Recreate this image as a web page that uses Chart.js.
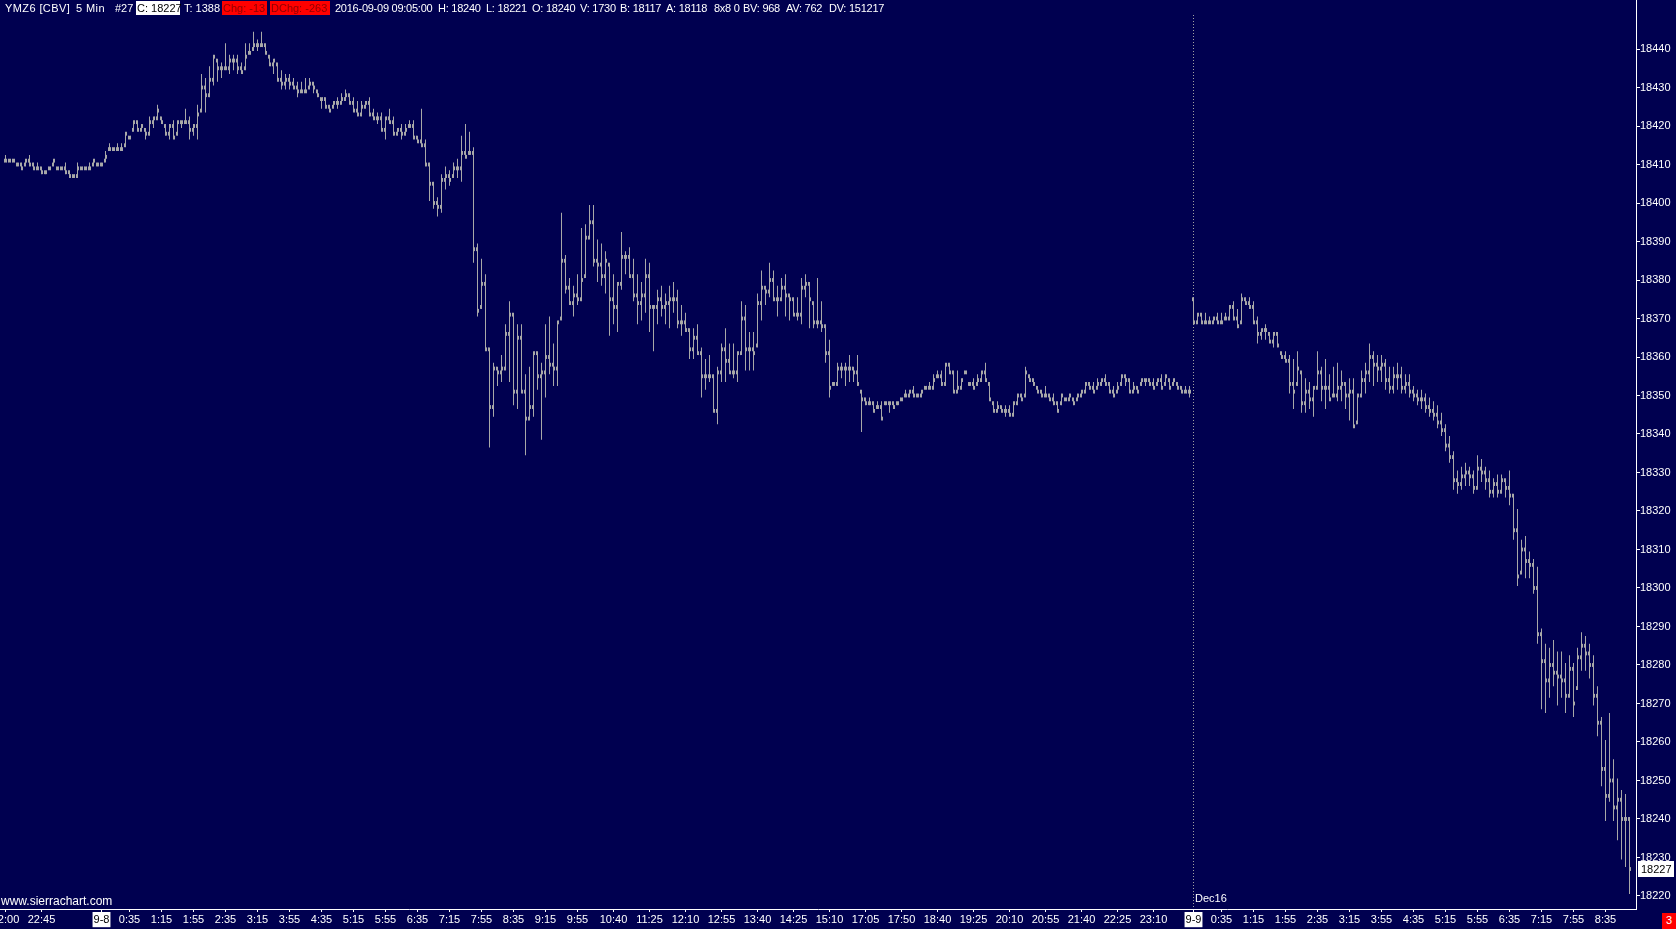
<!DOCTYPE html>
<html>
<head>
<meta charset="utf-8">
<title>YMZ6 5 Min</title>
<script src="https://cdn.jsdelivr.net/npm/chart.js@4.4.1/dist/chart.umd.min.js"></script>
<style>
    body { margin: 0; background: #000050; overflow: hidden; }
    #wrap { position: relative; width: 1676px; height: 929px; font-family: "Liberation Sans", Arial, sans-serif; font-size: 11px; color: #fff; }
    #chart { position: absolute; left: 0; top: 0; }
    .t { position: absolute; top: 1px; height: 14px; line-height: 14px; white-space: pre; }
    .n { letter-spacing: -0.25px; }
    .w { letter-spacing: 0.4px; }
    .inv { background: #fff; color: #000; padding-left: 1px; }
    .red { background: #ff0000; color: #900000; padding-left: 1px; }
</style>
</head>
<body>
<div id="wrap">
    <canvas id="chart" width="1676" height="929"></canvas>
    <span class="t w" style="left:5px">YMZ6 [CBV]</span>
    <span class="t w" style="left:76px">5 Min</span>
    <span class="t" style="left:115px">#27</span>
    <span class="t inv" style="left:136px;width:43px">C: 18227</span>
    <span class="t" style="left:184px">T: 1388</span>
    <span class="t red" style="left:222px;width:44px">Chg: -13</span>
    <span class="t red" style="left:270px;width:59px">DChg: -263</span>
    <span class="t n" style="left:335px">2016-09-09 09:05:00</span>
    <span class="t n" style="left:438px">H: 18240</span>
    <span class="t n" style="left:486px">L: 18221</span>
    <span class="t n" style="left:532px">O: 18240</span>
    <span class="t n" style="left:580px">V: 1730</span>
    <span class="t n" style="left:620px">B: 18117</span>
    <span class="t n" style="left:666px">A: 18118</span>
    <span class="t n" style="left:714px">8x8 0</span>
    <span class="t n" style="left:743px">BV: 968</span>
    <span class="t n" style="left:786px">AV: 762</span>
    <span class="t n" style="left:829px">DV: 151217</span>
    <span class="t" style="left:1px;top:894px;font-size:12px">www.sierrachart.com</span>
    <span class="t" style="left:1195px;top:891px">Dec16</span>
    <span class="t" style="left:1662px;top:913px;width:14px;height:16px;background:#ff0000;text-align:center">3</span>
</div>
<script>
// 5 min bars, 2016-09-07 22:00 .. 2016-09-09 09:05
const barOpen = [
    18411,18411,18411,18410,18410,18410,18411,18410,18409,18409,
    18408,18409,18410,18409,18409,18409,18408,18407,18407,18409,
    18409,18409,18410,18410,18410,18411,18414,18414,18414,18414,
    18415,18417,18419,18421,18419,18419,18418,18421,18422,18422,
    18420,18418,18420,18418,18421,18421,18421,18419,18420,18424,
    18430,18428,18432,18437,18435,18435,18435,18437,18437,18435,
    18435,18439,18440,18441,18441,18441,18438,18436,18436,18432,
    18431,18432,18431,18430,18429,18429,18430,18431,18429,18427,
    18427,18425,18425,18426,18426,18427,18428,18426,18424,18423,
    18425,18426,18423,18422,18422,18419,18422,18421,18418,18419,
    18418,18420,18420,18417,18416,18415,18410,18405,18400,18399,
    18406,18407,18407,18409,18409,18413,18413,18413,18388,18373,
    18379,18362,18347,18357,18356,18357,18366,18371,18351,18365,
    18351,18344,18347,18361,18355,18356,18360,18358,18357,18370,
    18385,18378,18374,18376,18375,18381,18391,18395,18385,18384,
    18381,18384,18375,18373,18379,18386,18386,18381,18376,18374,
    18376,18381,18373,18373,18375,18373,18374,18375,18375,18369,
    18369,18367,18362,18365,18361,18355,18355,18355,18346,18356,
    18362,18359,18356,18356,18361,18370,18362,18362,18363,18374,
    18378,18377,18380,18375,18375,18378,18376,18375,18371,18371,
    18378,18379,18374,18369,18369,18368,18361,18353,18353,18357,
    18357,18357,18357,18356,18351,18349,18348,18348,18347,18347,
    18348,18348,18348,18348,18349,18350,18350,18351,18350,18350,
    18352,18352,18352,18355,18355,18353,18358,18356,18351,18352,
    18356,18353,18353,18353,18354,18356,18353,18348,18346,18347,
    18346,18346,18345,18348,18350,18350,18355,18354,18352,18351,
    18350,18350,18349,18348,18348,18349,18349,18349,18349,18350,
    18351,18353,18352,18352,18353,18354,18353,18351,18351,18353,
    18355,18354,18351,18352,18353,18354,18354,18353,18353,18354,
    18353,18354,18353,18353,18352,18351,18351,18375,18369,18371,
    18369,18369,18369,18370,18369,18370,18370,18373,18370,18369,
    18375,18374,18373,18369,18366,18367,18366,18364,18366,18361,
    18360,18359,18353,18353,18356,18348,18351,18349,18352,18356,
    18352,18352,18350,18350,18352,18353,18350,18351,18343,18350,
    18354,18356,18360,18358,18357,18358,18354,18352,18355,18355,
    18352,18353,18351,18350,18349,18349,18347,18346,18345,18343,
    18341,18337,18334,18328,18327,18329,18330,18329,18326,18331,
    18330,18328,18325,18327,18325,18328,18326,18324,18315,18304,
    18310,18307,18306,18300,18288,18281,18276,18280,18278,18277,
    18276,18272,18279,18274,18282,18285,18283,18280,18272,18265,
    18253,18246,18250,18243,18245,18240,18240
];
const barHigh = [
    18412,18411,18411,18410,18410,18411,18412,18410,18410,18409,
    18408,18409,18411,18409,18409,18410,18408,18407,18410,18409,
    18409,18410,18411,18410,18410,18413,18415,18414,18415,18415,
    18418,18417,18421,18421,18420,18419,18422,18422,18425,18422,
    18420,18420,18421,18421,18421,18424,18422,18420,18425,18433,
    18432,18435,18438,18437,18436,18441,18438,18438,18438,18436,
    18441,18441,18444,18442,18444,18441,18438,18437,18436,18434,
    18433,18433,18432,18431,18431,18432,18432,18431,18429,18427,
    18427,18425,18426,18427,18428,18429,18428,18427,18426,18426,
    18426,18427,18424,18423,18423,18422,18424,18422,18419,18420,
    18420,18421,18421,18417,18424,18416,18410,18405,18401,18407,
    18409,18408,18410,18411,18417,18420,18418,18414,18389,18385,
    18381,18362,18358,18357,18360,18368,18374,18371,18368,18368,
    18355,18357,18361,18361,18358,18368,18370,18363,18369,18397,
    18386,18380,18378,18381,18393,18394,18399,18399,18390,18389,
    18387,18384,18381,18379,18392,18387,18388,18385,18381,18379,
    18385,18384,18373,18377,18378,18376,18378,18379,18377,18373,
    18371,18367,18367,18368,18362,18359,18360,18355,18357,18363,
    18367,18363,18363,18361,18374,18373,18366,18366,18376,18382,
    18378,18384,18382,18378,18380,18381,18376,18375,18375,18380,
    18381,18379,18374,18380,18374,18368,18364,18353,18358,18358,
    18358,18360,18357,18360,18351,18349,18349,18348,18348,18348,
    18348,18348,18348,18348,18349,18351,18351,18352,18350,18351,
    18352,18353,18355,18356,18356,18358,18358,18356,18356,18354,
    18356,18353,18354,18355,18356,18358,18353,18348,18348,18347,
    18347,18347,18348,18350,18350,18357,18355,18354,18352,18351,
    18352,18350,18350,18348,18350,18349,18350,18349,18350,18351,
    18353,18353,18353,18354,18354,18355,18353,18352,18353,18355,
    18355,18354,18353,18352,18354,18354,18354,18354,18354,18355,
    18355,18354,18354,18353,18352,18352,18352,18375,18371,18371,
    18371,18370,18370,18371,18371,18371,18373,18374,18372,18376,
    18375,18375,18374,18370,18367,18368,18366,18366,18366,18361,
    18361,18360,18359,18361,18356,18354,18353,18352,18361,18357,
    18359,18355,18357,18358,18356,18353,18354,18354,18350,18356,
    18358,18363,18361,18360,18360,18359,18357,18357,18358,18357,
    18355,18355,18352,18351,18351,18350,18349,18348,18347,18345,
    18342,18339,18335,18330,18331,18332,18331,18330,18334,18333,
    18331,18330,18328,18329,18329,18328,18330,18324,18320,18312,
    18313,18309,18307,18305,18289,18285,18284,18286,18283,18283,
    18280,18282,18280,18284,18288,18287,18285,18282,18274,18266,
    18260,18267,18255,18250,18247,18246,18240
];
const barLow = [
    18411,18411,18411,18410,18409,18410,18410,18409,18409,18408,
    18408,18409,18410,18409,18409,18408,18407,18407,18407,18409,
    18409,18409,18410,18410,18410,18411,18414,18414,18414,18414,
    18415,18417,18419,18419,18419,18417,18418,18420,18422,18421,
    18418,18417,18417,18418,18420,18421,18417,18418,18417,18424,
    18424,18428,18431,18432,18433,18435,18434,18435,18434,18434,
    18435,18439,18440,18440,18441,18439,18436,18434,18432,18430,
    18430,18430,18430,18428,18429,18429,18430,18429,18428,18425,
    18425,18424,18425,18425,18426,18427,18426,18424,18423,18423,
    18425,18423,18422,18421,18419,18417,18421,18418,18418,18417,
    18418,18420,18417,18416,18415,18410,18401,18399,18397,18398,
    18404,18405,18407,18407,18406,18412,18413,18385,18371,18373,
    18362,18337,18345,18353,18354,18357,18354,18348,18347,18351,
    18335,18344,18345,18352,18339,18350,18356,18353,18353,18370,
    18377,18374,18371,18374,18375,18381,18391,18384,18380,18379,
    18377,18366,18369,18367,18378,18382,18381,18375,18369,18370,
    18372,18367,18362,18369,18371,18369,18368,18372,18368,18366,
    18367,18360,18360,18361,18350,18352,18354,18346,18343,18354,
    18354,18356,18355,18354,18361,18357,18357,18357,18363,18370,
    18374,18376,18375,18371,18375,18371,18370,18371,18370,18369,
    18376,18368,18368,18368,18367,18359,18350,18353,18353,18355,
    18353,18354,18354,18353,18341,18348,18348,18346,18347,18344,
    18348,18346,18347,18348,18349,18350,18350,18350,18350,18350,
    18352,18352,18352,18355,18353,18353,18356,18351,18351,18352,
    18356,18353,18352,18353,18354,18354,18349,18346,18346,18346,
    18345,18345,18345,18348,18349,18350,18354,18353,18351,18350,
    18350,18349,18348,18346,18348,18349,18349,18348,18349,18350,
    18351,18352,18351,18352,18353,18353,18351,18350,18351,18353,
    18353,18351,18351,18351,18353,18353,18353,18352,18353,18352,
    18353,18352,18353,18352,18351,18351,18350,18369,18369,18369,
    18369,18369,18369,18369,18369,18370,18370,18370,18368,18369,
    18374,18373,18369,18364,18365,18365,18364,18363,18363,18360,
    18359,18351,18347,18353,18346,18346,18347,18345,18352,18349,
    18347,18349,18350,18349,18349,18347,18344,18342,18343,18350,
    18351,18354,18353,18354,18354,18352,18351,18351,18352,18351,
    18351,18350,18349,18348,18347,18346,18345,18344,18342,18340,
    18336,18333,18326,18325,18326,18327,18327,18325,18326,18328,
    18326,18324,18324,18324,18325,18324,18322,18313,18301,18304,
    18303,18303,18299,18286,18269,18268,18272,18275,18270,18272,
    18268,18272,18267,18274,18279,18279,18277,18270,18262,18249,
    18240,18245,18240,18235,18230,18228,18221
];
const barClose = [
    18411,18411,18411,18410,18409,18411,18410,18409,18409,18408,
    18408,18409,18411,18409,18409,18408,18407,18407,18409,18409,
    18409,18409,18411,18410,18410,18412,18414,18414,18414,18414,
    18418,18417,18421,18419,18420,18418,18421,18422,18424,18421,
    18418,18420,18417,18421,18421,18421,18419,18420,18423,18430,
    18428,18432,18438,18435,18435,18435,18437,18437,18435,18434,
    18438,18439,18441,18441,18441,18439,18436,18437,18432,18431,
    18432,18431,18430,18429,18429,18429,18431,18430,18428,18427,
    18425,18424,18426,18426,18427,18428,18426,18424,18423,18425,
    18426,18423,18422,18422,18419,18422,18421,18418,18419,18418,
    18419,18420,18417,18416,18415,18410,18405,18400,18399,18406,
    18407,18406,18409,18409,18413,18412,18413,18388,18372,18379,
    18362,18347,18357,18356,18357,18366,18371,18351,18365,18351,
    18344,18347,18361,18355,18356,18360,18358,18357,18369,18385,
    18378,18374,18376,18375,18380,18391,18395,18385,18384,18381,
    18385,18375,18373,18379,18386,18386,18381,18376,18374,18376,
    18381,18373,18373,18375,18373,18374,18375,18375,18369,18369,
    18367,18362,18365,18361,18355,18355,18355,18346,18356,18362,
    18359,18356,18356,18361,18370,18362,18362,18361,18374,18378,
    18377,18380,18375,18375,18378,18376,18375,18371,18371,18378,
    18379,18375,18369,18369,18368,18361,18352,18353,18357,18357,
    18357,18357,18356,18353,18349,18348,18348,18346,18347,18344,
    18348,18348,18347,18348,18349,18350,18351,18350,18350,18351,
    18352,18352,18354,18355,18353,18358,18356,18351,18352,18354,
    18356,18353,18352,18354,18356,18354,18349,18346,18347,18346,
    18346,18345,18348,18350,18349,18356,18354,18353,18351,18350,
    18350,18349,18348,18346,18350,18349,18350,18348,18350,18351,
    18353,18352,18351,18353,18354,18353,18351,18350,18352,18355,
    18354,18351,18352,18351,18354,18354,18353,18352,18354,18352,
    18355,18352,18354,18352,18351,18351,18351,18369,18371,18369,
    18369,18369,18370,18369,18369,18370,18373,18370,18368,18375,
    18374,18373,18369,18366,18367,18367,18364,18366,18363,18360,
    18359,18353,18351,18357,18348,18351,18349,18352,18356,18352,
    18352,18349,18350,18352,18353,18350,18351,18342,18350,18354,
    18356,18360,18358,18357,18358,18354,18352,18355,18355,18352,
    18353,18351,18350,18349,18349,18347,18346,18345,18343,18341,
    18337,18334,18328,18327,18329,18330,18329,18326,18331,18330,
    18328,18325,18327,18325,18328,18326,18324,18315,18303,18310,
    18307,18306,18300,18288,18281,18276,18280,18278,18277,18276,
    18272,18279,18270,18282,18285,18283,18280,18272,18265,18253,
    18246,18250,18243,18245,18240,18240,18227
];

// time axis: bar number where each label sits, and its text
const xTickBars = [0, 9, 24, 31, 39, 47, 55, 63, 71, 79, 87, 95, 103, 111, 119, 127, 135,
    143, 152, 161, 170, 179, 188, 197, 206, 215, 224, 233, 242, 251, 260, 269, 278, 287,
    297, 304, 312, 320, 328, 336, 344, 352, 360, 368, 376, 384, 392, 400];
const xTickText = ['22:00', '22:45', '9-8', '0:35', '1:15', '1:55', '2:35', '3:15', '3:55', '4:35', '5:15',
    '5:55', '6:35', '7:15', '7:55', '8:35', '9:15', '9:55', '10:40', '11:25', '12:10', '12:55', '13:40',
    '14:25', '15:10', '17:05', '17:50', '18:40', '19:25', '20:10', '20:55', '21:40', '22:25', '23:10',
    '9-9', '0:35', '1:15', '1:55', '2:35', '3:15', '3:55', '4:35', '5:15', '5:55', '6:35', '7:15',
    '7:55', '8:35'];
const dateTicks = ['9-8', '9-9'];
const priceTicks = [18220, 18230, 18240, 18250, 18260, 18270, 18280, 18290, 18300, 18310, 18320, 18330,
    18340, 18350, 18360, 18370, 18380, 18390, 18400, 18410, 18420, 18430, 18440];
const sessionBreak = 296.75;

const X_MIN = -1.375;
const X_MAX = 407.625;
const Y_MIN = 18216.62;
const Y_MAX = 18452.73;
const barColor = '#a8a8a8';
const axisFont = { family: '"Liberation Sans", Arial, sans-serif', size: 11 };

const rangeData = barHigh.map((h, i) => ({ x: i, y: [barLow[i] - 0.5, h + 0.5] }));

function tickText(value) {
    const k = xTickBars.indexOf(value);
    return k >= 0 ? xTickText[k] : '';
}

// open tick on the left, close tick on the right of every bar
const ohlcTicks = {
    id: 'ohlcTicks',
    afterDatasetsDraw(chart) {
        const ctx = chart.ctx;
        const x = chart.scales.x;
        const y = chart.scales.y;
        ctx.save();
        ctx.fillStyle = barColor;
        barClose.forEach((c, i) => {
            const px = Math.round(x.getPixelForValue(i) - 0.5);
            const o = barOpen[i];
            const oTop = y.getPixelForValue(o + 0.5);
            const cTop = y.getPixelForValue(c + 0.5);
            ctx.fillRect(px - 1, oTop, 1, y.getPixelForValue(o - 0.5) - oTop);
            ctx.fillRect(px + 1, cTop, 1, y.getPixelForValue(c - 0.5) - cTop);
        });
        ctx.restore();
    }
};

const sessionLine = {
    id: 'sessionLine',
    beforeDatasetsDraw(chart) {
        const ctx = chart.ctx;
        const x = Math.round(chart.scales.x.getPixelForValue(sessionBreak)) + 0.5;
        ctx.save();
        ctx.strokeStyle = '#a0a0a0';
        ctx.lineWidth = 1;
        ctx.setLineDash([1, 2]);
        ctx.beginPath();
        ctx.moveTo(x, 15);
        ctx.lineTo(x, chart.chartArea.bottom);
        ctx.stroke();
        ctx.restore();
    }
};

const lastPrice = {
    id: 'lastPrice',
    afterDraw(chart) {
        const ctx = chart.ctx;
        const last = barClose[barClose.length - 1];
        const y = Math.round(chart.scales.y.getPixelForValue(last));
        const left = chart.chartArea.right + 2;
        ctx.save();
        ctx.fillStyle = '#ffffff';
        ctx.fillRect(left, y - 8, 36, 16);
        ctx.fillStyle = '#000000';
        ctx.font = '11px "Liberation Sans", Arial, sans-serif';
        ctx.textBaseline = 'middle';
        ctx.textAlign = 'left';
        ctx.fillText(String(last), left + 3, y + 1);
        ctx.restore();
    }
};

new Chart(document.getElementById('chart'), {
    type: 'bar',
    data: {
        datasets: [{
            label: 'YMZ6',
            data: rangeData,
            backgroundColor: barColor,
            borderWidth: 0,
            barThickness: 1,
            grouped: false,
            inflateAmount: 0
        }]
    },
    options: {
        responsive: false,
        animation: false,
        devicePixelRatio: 1,
        layout: { padding: 0 },
        plugins: {
            legend: { display: false },
            tooltip: { enabled: false }
        },
        scales: {
            x: {
                type: 'linear',
                position: 'bottom',
                offset: false,
                min: X_MIN,
                max: X_MAX,
                afterBuildTicks: (scale) => { scale.ticks = xTickBars.map(v => ({ value: v })); },
                afterFit: (scale) => { scale.height = 20; scale.paddingLeft = 0; scale.paddingRight = 0; },
                grid: { offset: false, drawOnChartArea: false, drawTicks: true, tickLength: 3, color: '#ffffff' },
                border: { display: true, color: '#ffffff', width: 1 },
                ticks: {
                    autoSkip: false,
                    maxRotation: 0,
                    padding: 1,
                    font: axisFont,
                    callback: (value) => tickText(value),
                    color: (c) => dateTicks.includes(tickText(c.tick.value)) ? '#000000' : '#ffffff',
                    showLabelBackdrop: true,
                    backdropColor: (c) => dateTicks.includes(tickText(c.tick.value)) ? '#ffffff' : 'rgba(0,0,0,0)',
                    backdropPadding: { x: 1, y: 1 }
                }
            },
            y: {
                position: 'right',
                min: Y_MIN,
                max: Y_MAX,
                afterBuildTicks: (scale) => { scale.ticks = priceTicks.map(v => ({ value: v })); },
                afterFit: (scale) => { scale.width = 40; scale.paddingTop = 0; scale.paddingBottom = 0; },
                grid: { drawOnChartArea: false, drawTicks: true, tickLength: 4, color: '#ffffff' },
                border: { display: true, color: '#ffffff', width: 1 },
                ticks: {
                    padding: 0,
                    font: axisFont,
                    color: '#ffffff',
                    callback: (value) => String(value)
                }
            }
        }
    },
    plugins: [sessionLine, ohlcTicks, lastPrice]
});
</script>
</body>
</html>
